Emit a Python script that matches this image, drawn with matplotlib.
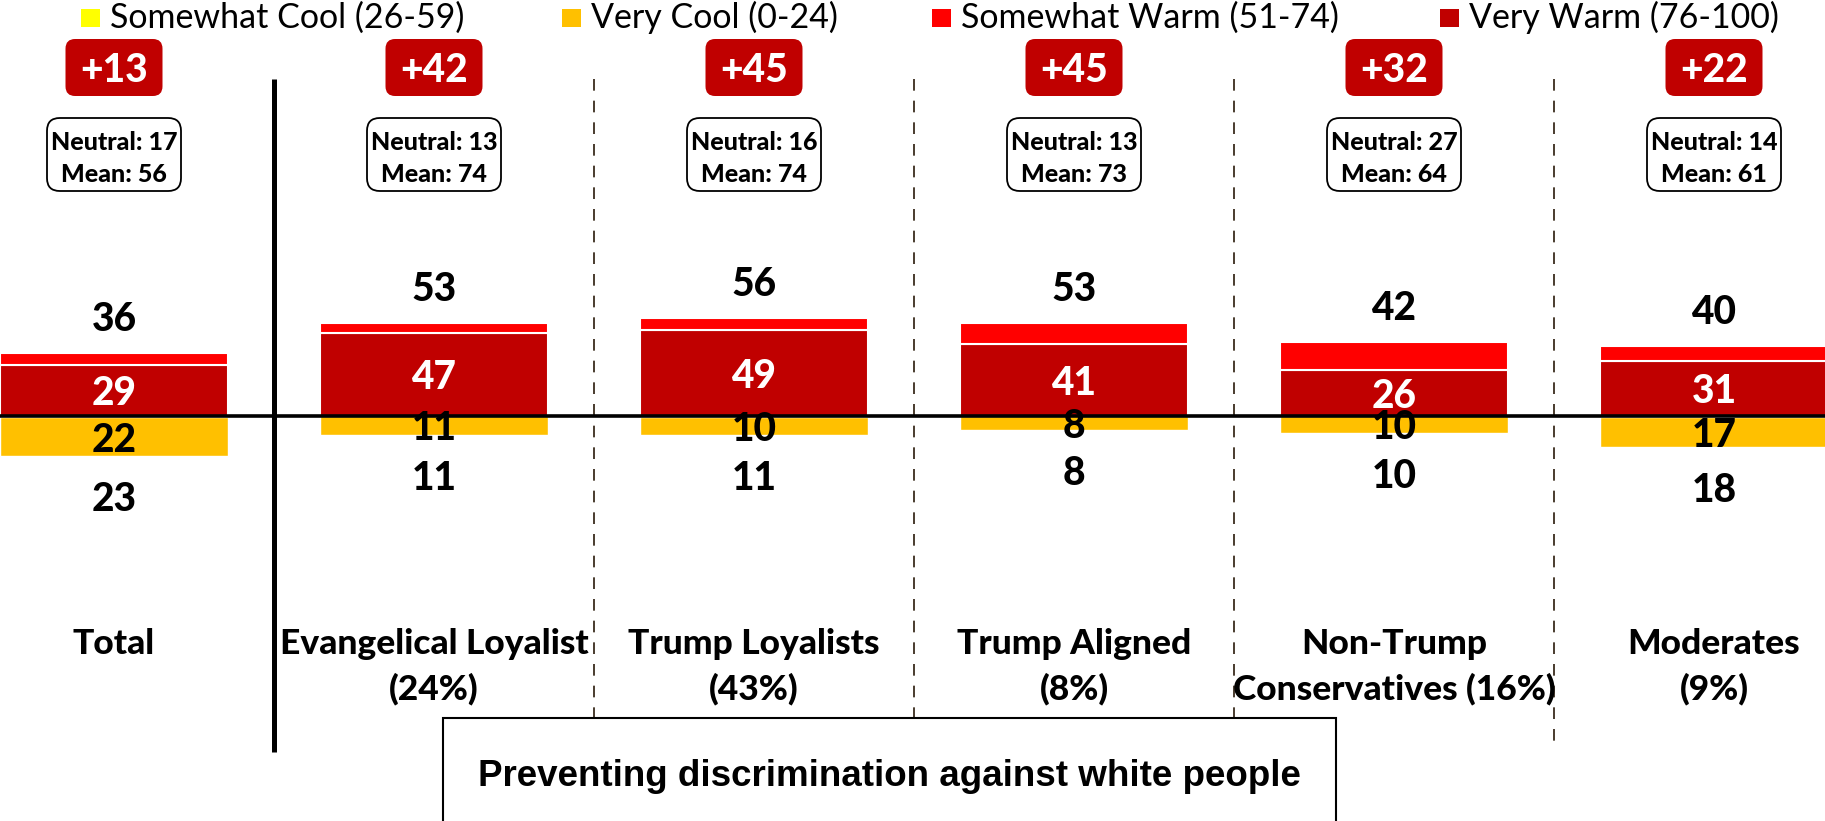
import matplotlib
matplotlib.use("Agg")
import matplotlib.pyplot as plt
from matplotlib.patches import FancyBboxPatch, Rectangle

categories = [["Total"], ["Evangelical Loyalist", "(24%)"], ["Trump Loyalists", "(43%)"],
              ["Trump Aligned", "(8%)"], ["Non-Trump", "Conservatives (16%)"], ["Moderates", "(9%)"]]
very_warm = [29, 47, 49, 41, 26, 31]
warm_total = [36, 53, 56, 53, 42, 40]
very_cool = [22, 11, 10, 8, 10, 17]
cool_total = [23, 11, 11, 8, 10, 18]
net = ["+13", "+42", "+45", "+45", "+32", "+22"]
neutral = [17, 13, 16, 13, 27, 14]
mean = [56, 74, 74, 73, 64, 61]
title = "Preventing discrimination against white people"

legend_names = ["Somewhat Cool (26-59)", "Very Cool (0-24)", "Somewhat Warm (51-74)", "Very Warm (76-100)"]
c_scool, c_vcool, c_swarm, c_vwarm = "#FFFF00", "#FFC000", "#FF0000", "#C00000"

somewhat_warm = [t - v for t, v in zip(warm_total, very_warm)]
somewhat_cool = [t - v for t, v in zip(cool_total, very_cool)]

W, H = 1825, 821
fig = plt.figure(figsize=(W / 100, H / 100), dpi=100)
ax = fig.add_axes([0, 0, 1, 1])
# pixel layout: category i centred at 114 + 320*i, zero line at y=415.6, 1.75 px per point
x0, xs, y0, ys = 114, 320, 415.6, 1.75
ax.set_xlim(-x0 / xs, (W - x0) / xs)
ax.set_ylim(-(H - y0) / ys, y0 / ys)
ax.axis("off")


def py(p):  # pixel row (from top) -> data y
    return (y0 - p) / ys


def px(p):  # pixel column -> data x
    return (p - x0) / xs


x = list(range(len(categories)))
bw = 228 / xs
ax.bar(x, very_warm, bw, color=c_vwarm, edgecolor="white", linewidth=1.5, zorder=2)
ax.bar(x, somewhat_warm, bw, bottom=very_warm, color=c_swarm, edgecolor="white", linewidth=1.5, zorder=2)
ax.bar(x, [-v for v in somewhat_cool], bw, color=c_scool, edgecolor="white", linewidth=1, zorder=2)
ax.bar(x, [-v for v in very_cool], bw, bottom=[-v for v in somewhat_cool], color=c_vcool,
       edgecolor="white", linewidth=1, zorder=2)
ax.axhline(0, color="black", lw=2.6, zorder=3)

# separators
ax.plot([0.5, 0.5], [py(79), py(752)], color="black", lw=3.6, solid_capstyle="butt", zorder=1)
for s in [1.5, 2.5, 3.5, 4.5]:
    ax.plot([s, s], [py(79), py(745)], color="#2a1a0a", lw=1.2, dashes=(7, 6), zorder=1)

fnt = "Lato"
wt = "black"
num_kw = dict(ha="center", va="center_baseline", fontsize=28, fontweight=wt, family=fnt, zorder=4)
asp = xs / ys  # keeps the rounded corners circular in pixels
for i in x:
    ax.text(i, warm_total[i] + 21, str(warm_total[i]), **num_kw)
    ax.text(i, very_warm[i] / 2, str(very_warm[i]), color="white", **num_kw)
    ax.text(i, -(somewhat_cool[i] + very_cool[i] / 2), str(very_cool[i]), **num_kw)
    ax.text(i, -(cool_total[i] + 23), str(cool_total[i]), **num_kw)

    # net box
    bwid, bht = 97 / xs, 57 / ys
    ax.add_patch(FancyBboxPatch((i - bwid / 2, py(67.5) - bht / 2), bwid, bht,
                                boxstyle="round,pad=0,rounding_size=0.03", mutation_aspect=asp,
                                facecolor=c_vwarm, edgecolor="none", zorder=4))
    ax.text(i, py(67.5), net[i], ha="center", va="center_baseline", fontsize=28,
            fontweight=wt, family=fnt, color="white", zorder=5)

    # neutral / mean box
    nwid, nht = 134 / xs, 73 / ys
    ax.add_patch(FancyBboxPatch((i - nwid / 2, py(154.5) - nht / 2), nwid, nht,
                                boxstyle="round,pad=0,rounding_size=0.04", mutation_aspect=asp,
                                facecolor="white", edgecolor="black", lw=1.3, zorder=4))
    ax.text(i, py(141), f"Neutral: {neutral[i]}", ha="center", va="center_baseline",
            fontsize=18, fontweight=wt, family=fnt, zorder=5)
    ax.text(i, py(172), f"Mean: {mean[i]}", ha="center", va="center_baseline",
            fontsize=18, fontweight=wt, family=fnt, zorder=5)

    for k, line in enumerate(categories[i]):
        ax.text(i, py(641 + 45 * k), line, ha="center", va="center_baseline",
                fontsize=25.5, fontweight=wt, family=fnt, zorder=5)

# bottom title box
ax.add_patch(Rectangle((px(443), py(900)), px(1336) - px(443), py(718) - py(900),
                       facecolor="white", edgecolor="black", lw=1.5, zorder=6, clip_on=False))
ax.text((px(443) + px(1336)) / 2, py(772), title, ha="center", va="center_baseline",
        fontsize=26.5, fontweight="bold", family="Liberation Sans", zorder=7)

# legend
sq_left = [81, 562, 932, 1440]
for left, name, col in zip(sq_left, legend_names, [c_scool, c_vcool, c_swarm, c_vwarm]):
    fig.patches.append(Rectangle((left / W, 1 - 27 / H), 19 / W, 18 / H, facecolor=col,
                                 edgecolor="none", transform=fig.transFigure))
    fig.text((left + 29) / W, 1 - 28 / H, name, ha="left", va="baseline", fontsize=24.5,
             family=fnt)

fig.savefig("out.png", dpi=100)
